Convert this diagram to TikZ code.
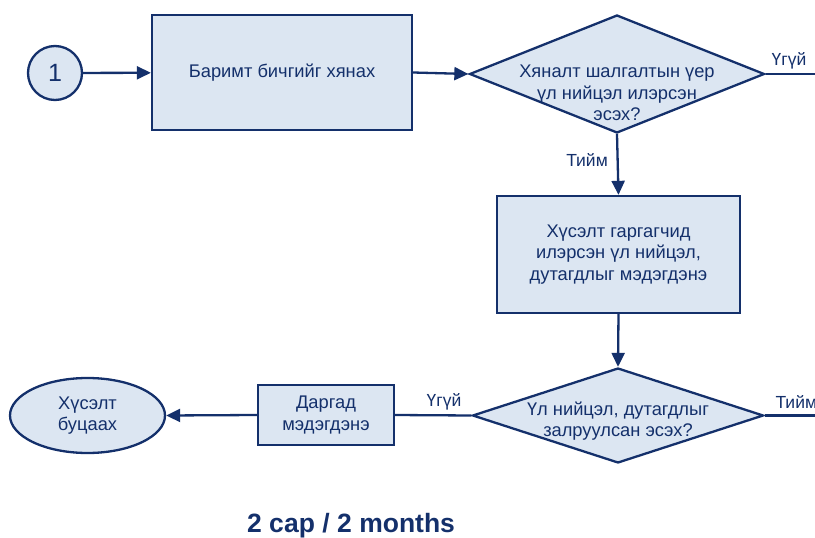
\documentclass[tikz,border=0pt]{standalone}
\usepackage{fontspec}
\setmainfont{Liberation Sans}
\usetikzlibrary{arrows.meta,shapes.geometric}
\definecolor{navy}{HTML}{14306B}
\definecolor{paleblue}{HTML}{DCE6F2}
\tikzset{
	flow/.style={draw=navy,fill=paleblue,line width=2.3pt,inner sep=0pt},
	boxtext/.style={text=navy,align=center,font=\fontsize{18.3}{21.7}\selectfont},
	ans/.style={text=navy,font=\fontsize{17.5}{20}\selectfont},
	link/.style={draw=navy,line width=2.3pt},
	arr/.style={link,-{Triangle[length=14pt,width=13pt]}}
}
\begin{document}
\begin{tikzpicture}[x=1pt,y=-1pt]
	\useasboundingbox (0,0) rectangle (815,538);
	% start
	\node[flow,circle,minimum size=54pt] (one) at (55,73) {};
	\node[boxtext,font=\fontsize{25}{28}\selectfont] at (one) {1};
	\node[flow,rectangle,minimum width=260pt,minimum height=115pt] (check) at (282,72.5) {};
	\node[boxtext] at (check) {Баримт бичгийг хянах};
	\node[flow,diamond,minimum width=295pt,minimum height=118pt] (q1) at (617,74) {};
	\node[boxtext] at (617,93) {Хяналт шалгалтын үер\\үл нийцэл илэрсэн\\эсэх?};
	\node[flow,rectangle,minimum width=243pt,minimum height=117pt] (notify) at (618.5,254.5) {};
	\node[boxtext] at (notify) {Хүсэлт гаргагчид\\илэрсэн үл нийцэл,\\дутагдлыг мэдэгдэнэ};
	\node[flow,diamond,minimum width=291pt,minimum height=95pt] (q2) at (618,415.5) {};
	\node[boxtext] at (618,421) {Үл нийцэл, дутагдлыг\\залруулсан эсэх?};
	\node[flow,rectangle,minimum width=136pt,minimum height=60pt] (boss) at (326,415) {};
	\node[boxtext] at (boss) {Даргад\\мэдэгдэнэ};
	\node[flow,ellipse,minimum width=155pt,minimum height=75pt] (back) at (87.5,415.5) {};
	\node[boxtext] at (back) {Хүсэлт\\буцаах};
	\coordinate (out1) at (815,74);
	\coordinate (out2) at (815,415.5);

	% connectors
	\draw[arr] (one) -- (check);
	\draw[arr] (check.east) -- (q1.west);
	\draw[link] (q1.east) -- (out1);
	\node[ans] at (789,61) {Үгүй};
	\draw[arr] (q1.south) -- (notify.north);
	\node[ans] at (587,160) {Тийм};
	\draw[arr] (notify.south) -- (q2.north);
	\draw[link] (q2.east) -- (out2);
	\node[ans,anchor=west] at (772,402) {Тийм};
	\draw[link] (q2.west) -- (boss.east);
	\node[ans] at (444,402) {Үгүй};
	\draw[arr] (boss.west) -- (back.east);

	\node[text=navy,font=\fontsize{26.5}{30}\selectfont\bfseries] (time) at (351,526) {2 сар / 2 months};
\end{tikzpicture}
\end{document}
